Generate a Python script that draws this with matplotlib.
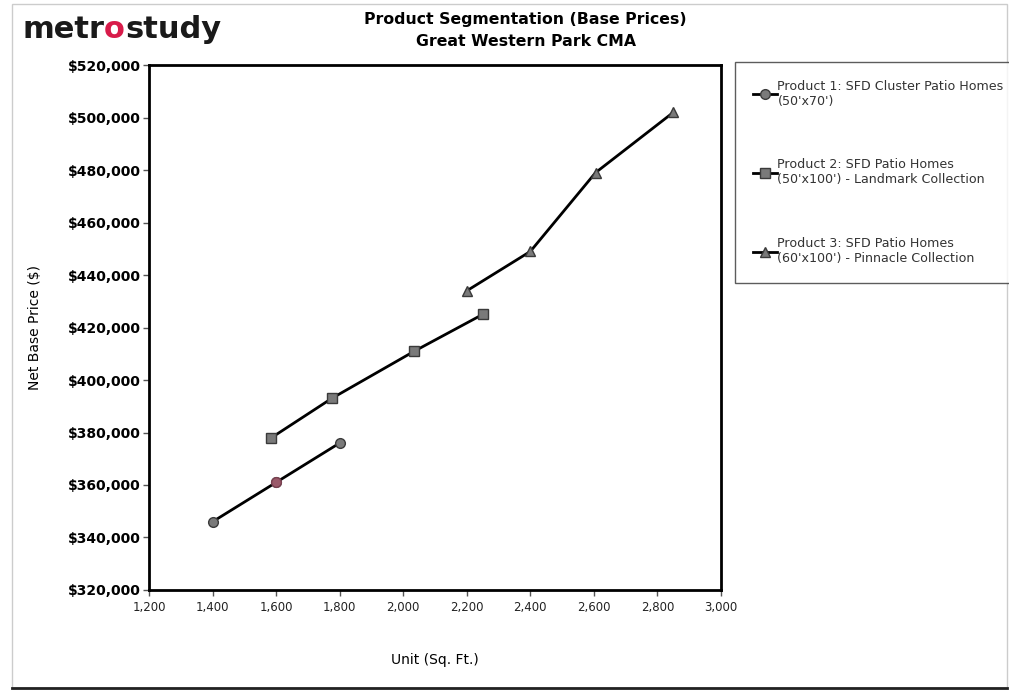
import matplotlib.pyplot as plt
from matplotlib.patches import Rectangle
from matplotlib.lines import Line2D
from matplotlib.ticker import FuncFormatter, MultipleLocator

# Product series: unit size (sq. ft.) vs. net base price ($)
p1_sqft = [1400, 1600, 1800]
p1_price = [346000, 361000, 376000]

p2_sqft = [1585, 1775, 2035, 2250]
p2_price = [378000, 393000, 411000, 425000]

p3_sqft = [2200, 2400, 2605, 2850]
p3_price = [434000, 449000, 479000, 502000]

labels = [
    "Product 1: SFD Cluster Patio Homes\n(50'x70')",
    "Product 2: SFD Patio Homes\n(50'x100') - Landmark Collection",
    "Product 3: SFD Patio Homes\n(60'x100') - Pinnacle Collection",
]

fig = plt.figure(figsize=(10.09, 6.91), dpi=100)
ax = fig.add_axes([0.1477, 0.1462, 0.5669, 0.7596])

mfc = '#7a7a7a'
mec = '#3a3a3a'
l1, = ax.plot(p1_sqft, p1_price, color='black', lw=2, marker='o', ms=7,
              mfc=mfc, mec=mec, mew=1)
# the middle point of product 1 is shown highlighted
ax.plot(p1_sqft[1], p1_price[1], marker='o', ms=7, mfc='#9a5a6a', mec='#7a4050',
        mew=1, ls='none')
l2, = ax.plot(p2_sqft, p2_price, color='black', lw=2, marker='s', ms=7,
              mfc=mfc, mec=mec, mew=1)
l3, = ax.plot(p3_sqft, p3_price, color='black', lw=2, marker='^', ms=7.5,
              mfc=mfc, mec=mec, mew=1)

ax.set_xlim(1200, 3000)
ax.set_ylim(320000, 520000)
ax.xaxis.set_major_locator(MultipleLocator(200))
ax.yaxis.set_major_locator(MultipleLocator(20000))
ax.xaxis.set_major_formatter(FuncFormatter(lambda v, p: f'{v:,.0f}'))
ax.yaxis.set_major_formatter(FuncFormatter(lambda v, p: f'${v:,.0f}'))

for s in ax.spines.values():
    s.set_linewidth(2)
ax.tick_params(axis='both', length=4, width=1, color='#555555', direction='out')
ax.tick_params(axis='x', labelsize=8.5, labelcolor='#222222', pad=4)
ax.tick_params(axis='y', labelsize=10, pad=2)
for t in ax.get_yticklabels():
    t.set_fontweight('bold')

ax.set_xlabel('Unit (Sq. Ft.)', fontsize=10, labelpad=28)
ax.set_ylabel('Net Base Price ($)', fontsize=10)
ax.yaxis.set_label_coords(-0.187, 0.5)

fig.text(0.521, 0.956, 'Product Segmentation (Base Prices)\nGreat Western Park CMA',
         ha='center', va='center', fontsize=11.3, fontweight='bold', linespacing=1.55)

# brand wordmark, top left
t1 = fig.text(0.022, 0.958, 'metr', fontsize=22, fontweight='bold', va='center',
              color='#1a1a1a')
t2 = ax.annotate('o', xy=(1, 0), xycoords=t1, va='bottom', fontsize=22,
                 fontweight='bold', color='#d81b4a', annotation_clip=False)
ax.annotate('study', xy=(1, 0), xycoords=t2, va='bottom', fontsize=22,
            fontweight='bold', color='#1a1a1a', annotation_clip=False)

# legend
leg = fig.legend([l1, l2, l3], labels, loc='upper left',
                 bbox_to_anchor=(0.7285, 0.910), fontsize=9.1, frameon=True,
                 fancybox=False, edgecolor='#333333', labelspacing=4.0,
                 handlelength=1.9, handletextpad=0.05, borderpad=1.4,
                 borderaxespad=0)
leg.get_frame().set_linewidth(1)
for t in leg.get_texts():
    t.set_color('#333333')

# outer frame
fig.patches.append(Rectangle((0.012, 0.004), 0.986, 0.99, transform=fig.transFigure,
                             fill=False, edgecolor='#cccccc', lw=1))
fig.lines.append(Line2D([0.012, 0.998], [0.004, 0.004], transform=fig.transFigure,
                        color='#222222', lw=2))

fig.savefig('out.png', dpi=100)
